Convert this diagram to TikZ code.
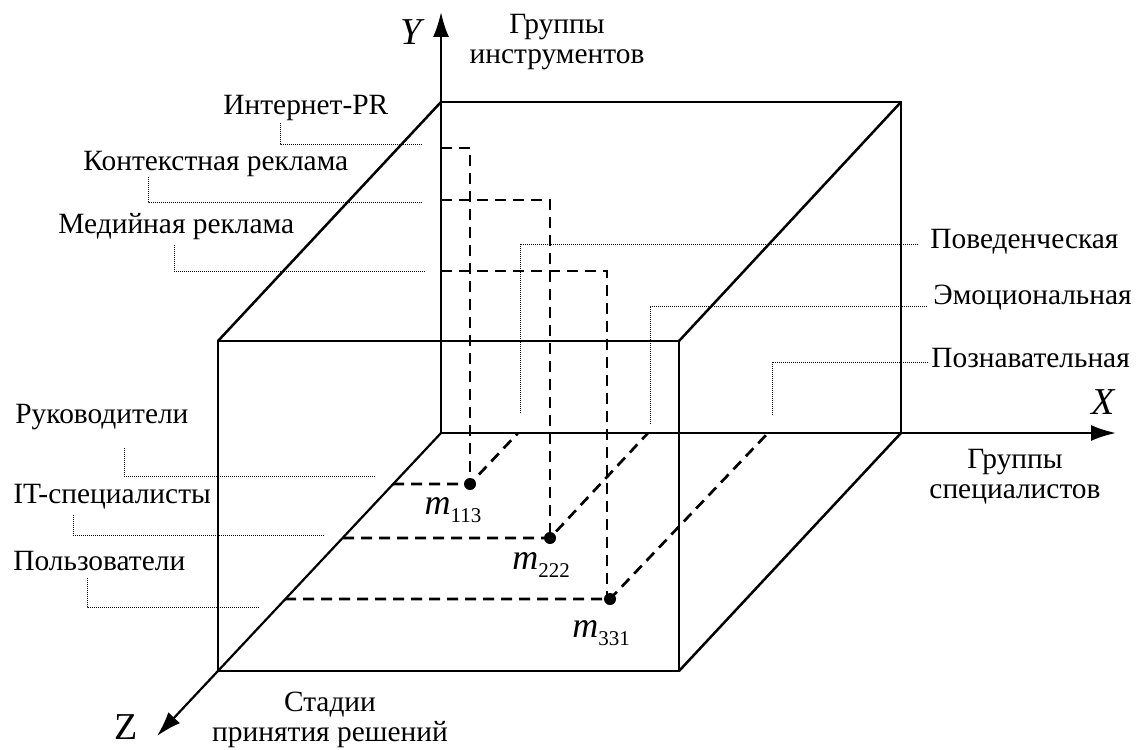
\documentclass[tikz,border=0pt]{standalone}
\usepackage{fontspec}
\setmainfont{Liberation Serif}
\usetikzlibrary{arrows.meta,calc,positioning}
\tikzset{ax/.style={-{Latex[length=12.5pt,width=8pt]},line width=1.1pt}}
\tikzstyle{edge}=[line width=1.25pt]
\tikzstyle{proj}=[line width=1.35pt,dash pattern=on 5.5pt off 3.5pt]
\tikzstyle{lead}=[line width=0.5pt,dash pattern=on 0.5pt off 0.5pt]
\tikzstyle{lbl}=[font=\fontsize{14.7}{15}\selectfont,inner sep=0pt]
\tikzstyle{axlbl}=[font=\fontsize{19}{22}\selectfont\itshape,inner sep=0pt]
\tikzstyle{pt}=[circle,fill,inner sep=0pt,minimum size=6pt]
\newcommand{\mlab}[1]{{\fontsize{18}{20}\selectfont\itshape m}\raisebox{-4pt}{\fontsize{10.5}{12}\selectfont #1}}

\begin{document}
\begin{tikzpicture}[x=0.5pt,y=-0.5pt,every text node part/.style={align=center}]
  \useasboundingbox (0,0) rectangle (1139,749);
  % corners of the box
  \coordinate (O) at (441,433);
  \coordinate (bTL) at (441,102);
  \coordinate (bTR) at (901,102);
  \coordinate (bBR) at (901,433);
  \coordinate (fTL) at (218,341);
  \coordinate (fTR) at (679,341);
  \coordinate (fBL) at (218,671);
  \coordinate (fBR) at (679,671);
  \coordinate (Xe) at (1116,433);
  \coordinate (Ye) at (441,12);
  \coordinate (Ze) at (157,736);

  \draw[edge] (fTL) rectangle (fBR);
  \draw[edge] (bTL) -- (bTR) -- (bBR);
  \draw[edge] (bTL) -- (fTL) (bTR) -- (fTR) (bBR) -- (fBR);

  % axes
  \draw[ax] (O) -- (Xe);
  \draw[ax] (O) -- (Ye);
  \draw[ax] (O) -- (Ze);
  \node[axlbl] (xl) at (1103,402) {X};
  \node[axlbl] (yl) at (411,32) {Y};
  \node[axlbl,font=\fontsize{19}{22}\selectfont\upshape] (zl) at (126,727) {Z};
  \node[lbl] (xg) at (1015,477) {Группы\\специалистов};
  \node[lbl] (yg) at (557,42) {Группы\\инструментов};
  \node[lbl] (zg) at (330,720) {Стадии\\принятия решений};

  % points
  \node[pt] (p113) at (470,484) {};
  \node[pt] (p222) at (550,538) {};
  \node[pt] (p331) at (610,599) {};
  \node (m113) at (453,510) {\mlab{113}};
  \node (m222) at (541,565) {\mlab{222}};
  \node (m331) at (601,633) {\mlab{331}};

  \coordinate (y113) at (441,148);
  \coordinate (y222) at (441,200);
  \coordinate (y331) at (441,271);
  \coordinate (z113) at (393,484);
  \coordinate (z222) at (343,538);
  \coordinate (z331) at (285,599);
  \coordinate (x113) at (518,433);
  \coordinate (x222) at (648,433);
  \coordinate (x331) at (768,433);

  \draw[proj] (y113) -| (p113.center);
  \draw[proj] (y222) -| (p222.center);
  \draw[proj] (y331) -| ($(p331.center)+(-3,0)$);
  \draw[proj] (z113) -- (p113.center) -- (x113);
  \draw[proj] (z222) -- (p222.center) -- (x222);
  \draw[proj] (z331) -- (p331.center) -- (x331);

  % labels with leaders, Y
  \node[lbl,anchor=west] (pr) at (223,108) {Интернет-PR};
  \node[lbl,anchor=west] (ctx) at (83,164) {Контекстная реклама};
  \node[lbl,anchor=west] (med) at (58,227) {Медийная реклама};
  \coordinate (prA) at (280,123);   \coordinate (prB) at (423,144);
  \coordinate (ctxA) at (148,177);  \coordinate (ctxB) at (423,202);
  \coordinate (medA) at (174,245);  \coordinate (medB) at (426,271);
  \draw[lead] (prA) |- (prB);
  \draw[lead] (ctxA) |- (ctxB);
  \draw[lead] (medA) |- (medB);

  % labels with leaders, Z
  \node[lbl,anchor=west] (ruk) at (15,417) {Руководители};
  \node[lbl,anchor=west] (its) at (13,497) {IT-специалисты};
  \node[lbl,anchor=west] (pol) at (13,561) {Пользователи};
  \coordinate (rukA) at (124,448);  \coordinate (rukB) at (375,476);
  \coordinate (itsA) at (73,515);   \coordinate (itsB) at (324,535);
  \coordinate (polA) at (87,578);   \coordinate (polB) at (259,607);
  \draw[lead] (rukA) |- (rukB);
  \draw[lead] (itsA) |- (itsB);
  \draw[lead] (polA) |- (polB);

  % labels with leaders, X
  \node[lbl,anchor=west] (pov) at (930,242) {Поведенческая};
  \node[lbl,anchor=west] (emo) at (933,298) {Эмоциональная};
  \node[lbl,anchor=west] (poz) at (931,358) {Познавательная};
  \coordinate (povA) at (918,244);  \coordinate (povB) at (520,414);
  \coordinate (emoA) at (927,306);  \coordinate (emoB) at (650,425);
  \coordinate (pozA) at (928,362);  \coordinate (pozB) at (772,415);
  \draw[lead] (povA) -| (povB);
  \draw[lead] (emoA) -| (emoB);
  \draw[lead] (pozA) -| (pozB);
\end{tikzpicture}
\end{document}
